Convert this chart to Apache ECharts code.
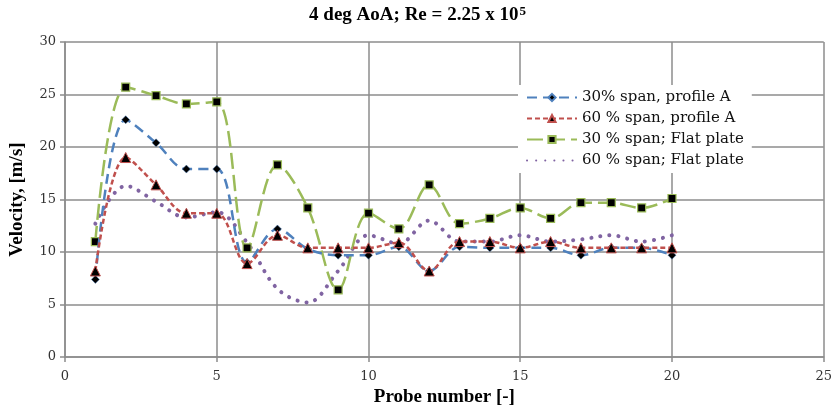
<!DOCTYPE html>
<html>
<head>
<meta charset="utf-8">
<script src="https://cdn.jsdelivr.net/npm/echarts@6/dist/echarts.min.js"></script>
<style>
  html, body { margin: 0; padding: 0; background: #fff; }
  #chart { width: 835px; height: 412px; }
</style>
</head>
<body>
<div id="chart"></div>
<script>
// Probe positions along the span
const probes = [1, 2, 3, 4, 5, 6, 7, 8, 9, 10, 11, 12, 13, 14, 15, 16, 17, 18, 19, 20];

// Measured velocities [m/s]
const span30ProfileA = [7.4, 22.6, 20.4, 17.9, 17.9, 9.0, 12.2, 10.3, 9.7, 9.7, 10.5, 8.2, 10.5, 10.4, 10.4, 10.4, 9.7, 10.4, 10.4, 9.7];
const span60ProfileA = [8.2, 19.0, 16.4, 13.7, 13.7, 8.9, 11.6, 10.4, 10.4, 10.4, 10.9, 8.2, 11.0, 11.0, 10.4, 11.0, 10.4, 10.4, 10.4, 10.4];
const span30Flat = [11.0, 25.7, 24.9, 24.1, 24.3, 10.4, 18.3, 14.2, 6.4, 13.7, 12.2, 16.4, 12.7, 13.2, 14.2, 13.2, 14.7, 14.7, 14.2, 15.1];
const span60Flat = [12.7, 16.3, 14.8, 13.3, 13.8, 10.9, 6.5, 5.2, 8.2, 11.6, 10.8, 13.0, 11.0, 11.0, 11.6, 11.0, 11.2, 11.6, 11.0, 11.6];

const seriesNames = ['30% span, profile A', '60 % span, profile A', '30 % span; Flat plate', '60 % span; Flat plate'];
const xTicks = { min: 0, max: 25, step: 5 };
const yTicks = { min: 0, max: 30, step: 5 };

const serif = '"Liberation Serif", "DejaVu Serif", serif';
const wideSerif = '"DejaVu Serif", "Liberation Serif", serif';

function pairs(values) {
  return probes.map((p, i) => [p, values[i]]);
}

const chart = echarts.init(document.getElementById('chart'), null, { renderer: 'canvas' });

chart.setOption({
  animation: false,
  backgroundColor: '#ffffff',
  title: {
    text: '{b|4 deg AoA; Re = 2.25 x 10}{s|5}',
    left: 'center',
    top: 0,
    textStyle: {
      rich: {
        b: { fontFamily: serif, fontSize: 19, fontWeight: 'bold', color: '#000' },
        s: { fontFamily: serif, fontSize: 13, fontWeight: 'bold', color: '#000', verticalAlign: 'top', padding: [0, 0, 7, 1] }
      }
    }
  },
  grid: { left: 65, right: 10, top: 42, bottom: 52, containLabel: false },
  legend: {
    orient: 'vertical',
    left: 518,
    top: 85,
    padding: [5, 8, 5, 8],
    backgroundColor: '#ffffff',
    itemWidth: 50,
    itemHeight: 9,
    itemGap: 6,
    textStyle: { fontFamily: wideSerif, fontSize: 15, color: '#111' },
    data: [
      seriesNames[0],
      seriesNames[1],
      seriesNames[2],
      { name: seriesNames[3], itemStyle: { color: 'rgba(0,0,0,0)', borderColor: 'rgba(0,0,0,0)', borderWidth: 0 } }
    ]
  },
  xAxis: {
    type: 'value',
    min: xTicks.min,
    max: xTicks.max,
    interval: xTicks.step,
    name: 'Probe number [-]',
    nameLocation: 'middle',
    nameGap: 30,
    nameTextStyle: { fontFamily: serif, fontSize: 19, fontWeight: 'bold', color: '#000' },
    axisLine: { show: true, onZero: false, lineStyle: { color: '#8c8c8c', width: 1.5 } },
    axisTick: { show: true, length: 5, lineStyle: { color: '#8c8c8c', width: 1.5 } },
    axisLabel: { fontFamily: wideSerif, fontSize: 13, color: '#333', margin: 13 },
    splitLine: { show: true, lineStyle: { color: '#8c8c8c', width: 1.5 } }
  },
  yAxis: {
    type: 'value',
    min: yTicks.min,
    max: yTicks.max,
    interval: yTicks.step,
    name: 'Velocity, [m/s]',
    nameLocation: 'middle',
    nameGap: 38,
    nameTextStyle: { fontFamily: serif, fontSize: 19, fontWeight: 'bold', color: '#000' },
    axisLine: { show: true, lineStyle: { color: '#8c8c8c', width: 1.5 } },
    axisTick: { show: true, length: 5, lineStyle: { color: '#8c8c8c', width: 1.5 } },
    axisLabel: { fontFamily: wideSerif, fontSize: 13, color: '#333', margin: 9 },
    splitLine: { show: true, lineStyle: { color: '#8c8c8c', width: 1.5 } }
  },
  series: [
    {
      name: seriesNames[0],
      type: 'line',
      data: pairs(span30ProfileA),
      smooth: 0.35,
      z: 4,
      symbol: 'diamond',
      symbolSize: 8,
      itemStyle: { color: '#000', borderColor: '#4F81BD', borderWidth: 0.5 },
      lineStyle: { color: '#4F81BD', width: 2.5, type: [10, 6] }
    },
    {
      name: seriesNames[1],
      type: 'line',
      data: pairs(span60ProfileA),
      smooth: 0.35,
      z: 5,
      symbol: 'triangle',
      symbolSize: 10,
      itemStyle: { color: '#000', borderColor: '#C0504D', borderWidth: 1 },
      lineStyle: { color: '#C0504D', width: 2.5, type: [5, 3] }
    },
    {
      name: seriesNames[2],
      type: 'line',
      data: pairs(span30Flat),
      smooth: 0.35,
      z: 3,
      symbol: 'rect',
      symbolSize: 8,
      itemStyle: { color: '#000', borderColor: '#9BBB59', borderWidth: 1.2 },
      lineStyle: { color: '#9BBB59', width: 2.5, type: [16, 6] }
    },
    {
      name: seriesNames[3],
      type: 'line',
      data: pairs(span60Flat),
      smooth: 0.35,
      z: 2,
      symbol: 'none',
      itemStyle: { color: '#8064A2' },
      lineStyle: { color: '#8064A2', width: 4, type: [0.1, 9], cap: 'round' }
    }
  ]
});
</script>
</body>
</html>
